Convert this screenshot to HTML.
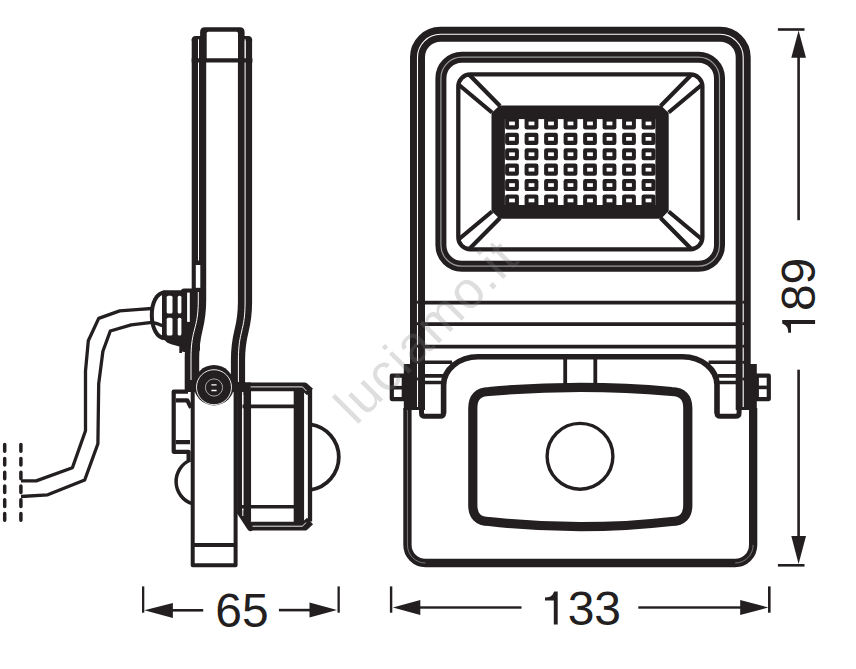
<!DOCTYPE html>
<html><head><meta charset="utf-8"><title>Floodlight dimensions</title>
<style>
html,body{margin:0;padding:0;background:#fff;}
body{width:856px;height:669px;overflow:hidden;font-family:"Liberation Sans",sans-serif;}
svg{display:block;}
</style></head>
<body>
<svg width="856" height="669" viewBox="0 0 856 669">
<rect width="856" height="669" fill="#fff"/>
<g fill="none" stroke="#231f20" stroke-linejoin="round">

<!-- ===== FRONT VIEW ===== -->
<!-- outer housing band -->
<path d="M417.5 410 V57.3 A23 23 0 0 1 440.5 34.3 H720.2 A23 23 0 0 1 743.2 57.3 V410" stroke-width="15"/>
<path d="M417.5 407 V57.3 A23 23 0 0 1 440.5 34.3 H720.2 A23 23 0 0 1 743.2 57.3 V407" stroke="#fff" stroke-width="1.1"/>
<!-- bezel -->
<rect x="440.9" y="57.2" width="278.6" height="209" rx="21" stroke-width="11"/>
<rect x="440.9" y="57.2" width="278.6" height="209" rx="21" stroke="#9a9a9a" stroke-width="1.2"/>
<!-- reflector -->
<rect x="458.3" y="74.4" width="244.1" height="174.9" rx="12" stroke-width="4.3"/>
<!-- diagonals -->
<g stroke-width="4.2" stroke-linecap="butt">
<path d="M469 74.5 L500 106 M458.5 84.5 L492 112.5"/>
<path d="M691.6 74.5 L660.6 106 M702.1 84.5 L668.6 112.5"/>
<path d="M469 249.3 L500 218 M458.5 239.5 L492 211.5"/>
<path d="M691.6 249.3 L660.6 218 M702.1 239.5 L668.6 211.5"/>
</g>
</g>

<g fill="#231f20"><rect x="416.6" y="300.8" width="1.8" height="2.8"/><rect x="742.3" y="300.8" width="1.8" height="2.8"/><rect x="416.6" y="322.3" width="1.8" height="2.8"/><rect x="742.3" y="322.3" width="1.8" height="2.8"/><rect x="416.6" y="344.8" width="1.8" height="2.8"/><rect x="742.3" y="344.8" width="1.8" height="2.8"/><rect x="416.6" y="360.9" width="1.8" height="2.8"/><rect x="742.3" y="360.9" width="1.8" height="2.8"/><rect x="416.6" y="377.6" width="1.8" height="2.8"/><rect x="742.3" y="377.6" width="1.8" height="2.8"/></g>
<!-- LED array -->
<path d="M499.6 105.4 H661 L668.7 113 V211 L661 218.7 H499.6 L491.5 211 V113 Z" fill="#231f20"/>
<rect x="504.9" y="119.1" width="150.5" height="85.9" fill="#fff"/>
<g fill="#231f20"><rect x="505.1" y="117.4" width="13.8" height="12.1" rx="2.2"/><rect x="524.6" y="117.4" width="13.8" height="12.1" rx="2.2"/><rect x="544.1" y="117.4" width="13.8" height="12.1" rx="2.2"/><rect x="563.6" y="117.4" width="13.8" height="12.1" rx="2.2"/><rect x="583.1" y="117.4" width="13.8" height="12.1" rx="2.2"/><rect x="602.6" y="117.4" width="13.8" height="12.1" rx="2.2"/><rect x="622.1" y="117.4" width="13.8" height="12.1" rx="2.2"/><rect x="641.6" y="117.4" width="13.8" height="12.1" rx="2.2"/><rect x="505.1" y="132.8" width="13.8" height="12.1" rx="2.2"/><rect x="524.6" y="132.8" width="13.8" height="12.1" rx="2.2"/><rect x="544.1" y="132.8" width="13.8" height="12.1" rx="2.2"/><rect x="563.6" y="132.8" width="13.8" height="12.1" rx="2.2"/><rect x="583.1" y="132.8" width="13.8" height="12.1" rx="2.2"/><rect x="602.6" y="132.8" width="13.8" height="12.1" rx="2.2"/><rect x="622.1" y="132.8" width="13.8" height="12.1" rx="2.2"/><rect x="641.6" y="132.8" width="13.8" height="12.1" rx="2.2"/><rect x="505.1" y="148.2" width="13.8" height="12.1" rx="2.2"/><rect x="524.6" y="148.2" width="13.8" height="12.1" rx="2.2"/><rect x="544.1" y="148.2" width="13.8" height="12.1" rx="2.2"/><rect x="563.6" y="148.2" width="13.8" height="12.1" rx="2.2"/><rect x="583.1" y="148.2" width="13.8" height="12.1" rx="2.2"/><rect x="602.6" y="148.2" width="13.8" height="12.1" rx="2.2"/><rect x="622.1" y="148.2" width="13.8" height="12.1" rx="2.2"/><rect x="641.6" y="148.2" width="13.8" height="12.1" rx="2.2"/><rect x="505.1" y="163.6" width="13.8" height="12.1" rx="2.2"/><rect x="524.6" y="163.6" width="13.8" height="12.1" rx="2.2"/><rect x="544.1" y="163.6" width="13.8" height="12.1" rx="2.2"/><rect x="563.6" y="163.6" width="13.8" height="12.1" rx="2.2"/><rect x="583.1" y="163.6" width="13.8" height="12.1" rx="2.2"/><rect x="602.6" y="163.6" width="13.8" height="12.1" rx="2.2"/><rect x="622.1" y="163.6" width="13.8" height="12.1" rx="2.2"/><rect x="641.6" y="163.6" width="13.8" height="12.1" rx="2.2"/><rect x="505.1" y="179.0" width="13.8" height="12.1" rx="2.2"/><rect x="524.6" y="179.0" width="13.8" height="12.1" rx="2.2"/><rect x="544.1" y="179.0" width="13.8" height="12.1" rx="2.2"/><rect x="563.6" y="179.0" width="13.8" height="12.1" rx="2.2"/><rect x="583.1" y="179.0" width="13.8" height="12.1" rx="2.2"/><rect x="602.6" y="179.0" width="13.8" height="12.1" rx="2.2"/><rect x="622.1" y="179.0" width="13.8" height="12.1" rx="2.2"/><rect x="641.6" y="179.0" width="13.8" height="12.1" rx="2.2"/><rect x="505.1" y="194.4" width="13.8" height="12.1" rx="2.2"/><rect x="524.6" y="194.4" width="13.8" height="12.1" rx="2.2"/><rect x="544.1" y="194.4" width="13.8" height="12.1" rx="2.2"/><rect x="563.6" y="194.4" width="13.8" height="12.1" rx="2.2"/><rect x="583.1" y="194.4" width="13.8" height="12.1" rx="2.2"/><rect x="602.6" y="194.4" width="13.8" height="12.1" rx="2.2"/><rect x="622.1" y="194.4" width="13.8" height="12.1" rx="2.2"/><rect x="641.6" y="194.4" width="13.8" height="12.1" rx="2.2"/></g>
<g fill="#fff"><rect x="509.1" y="121.6" width="5.8" height="3.7"/><rect x="528.6" y="121.6" width="5.8" height="3.7"/><rect x="548.1" y="121.6" width="5.8" height="3.7"/><rect x="567.6" y="121.6" width="5.8" height="3.7"/><rect x="587.1" y="121.6" width="5.8" height="3.7"/><rect x="606.6" y="121.6" width="5.8" height="3.7"/><rect x="626.1" y="121.6" width="5.8" height="3.7"/><rect x="645.6" y="121.6" width="5.8" height="3.7"/><rect x="509.1" y="137.0" width="5.8" height="3.7"/><rect x="528.6" y="137.0" width="5.8" height="3.7"/><rect x="548.1" y="137.0" width="5.8" height="3.7"/><rect x="567.6" y="137.0" width="5.8" height="3.7"/><rect x="587.1" y="137.0" width="5.8" height="3.7"/><rect x="606.6" y="137.0" width="5.8" height="3.7"/><rect x="626.1" y="137.0" width="5.8" height="3.7"/><rect x="645.6" y="137.0" width="5.8" height="3.7"/><rect x="509.1" y="152.4" width="5.8" height="3.7"/><rect x="528.6" y="152.4" width="5.8" height="3.7"/><rect x="548.1" y="152.4" width="5.8" height="3.7"/><rect x="567.6" y="152.4" width="5.8" height="3.7"/><rect x="587.1" y="152.4" width="5.8" height="3.7"/><rect x="606.6" y="152.4" width="5.8" height="3.7"/><rect x="626.1" y="152.4" width="5.8" height="3.7"/><rect x="645.6" y="152.4" width="5.8" height="3.7"/><rect x="509.1" y="167.8" width="5.8" height="3.7"/><rect x="528.6" y="167.8" width="5.8" height="3.7"/><rect x="548.1" y="167.8" width="5.8" height="3.7"/><rect x="567.6" y="167.8" width="5.8" height="3.7"/><rect x="587.1" y="167.8" width="5.8" height="3.7"/><rect x="606.6" y="167.8" width="5.8" height="3.7"/><rect x="626.1" y="167.8" width="5.8" height="3.7"/><rect x="645.6" y="167.8" width="5.8" height="3.7"/><rect x="509.1" y="183.2" width="5.8" height="3.7"/><rect x="528.6" y="183.2" width="5.8" height="3.7"/><rect x="548.1" y="183.2" width="5.8" height="3.7"/><rect x="567.6" y="183.2" width="5.8" height="3.7"/><rect x="587.1" y="183.2" width="5.8" height="3.7"/><rect x="606.6" y="183.2" width="5.8" height="3.7"/><rect x="626.1" y="183.2" width="5.8" height="3.7"/><rect x="645.6" y="183.2" width="5.8" height="3.7"/><rect x="509.1" y="198.6" width="5.8" height="3.7"/><rect x="528.6" y="198.6" width="5.8" height="3.7"/><rect x="548.1" y="198.6" width="5.8" height="3.7"/><rect x="567.6" y="198.6" width="5.8" height="3.7"/><rect x="587.1" y="198.6" width="5.8" height="3.7"/><rect x="606.6" y="198.6" width="5.8" height="3.7"/><rect x="626.1" y="198.6" width="5.8" height="3.7"/><rect x="645.6" y="198.6" width="5.8" height="3.7"/></g>

<g fill="none" stroke="#231f20" stroke-linejoin="round">
<!-- fins -->
<path d="M424 302.6 H737 M424 324.1 H737 M424 346.6 H737" stroke-width="3.8"/>
<!-- bracket horizontal lines -->
<path d="M424 362.3 H452 M708.6 362.3 H737" stroke-width="3.6"/>
<path d="M424 375.9 H443 M424 382.5 H443 M717.6 375.9 H737 M717.6 382.5 H737" stroke-width="3.6"/>
<!-- hump -->
<path d="M443.6 413.5 V385 A34.4 28.3 0 0 1 478 356.7 H682.6 A34.4 28.3 0 0 1 717 385 V413.5" stroke-width="5.6"/>
<!-- tabs -->
<path d="M421.5 375.9 V413 Q421.5 416.3 424.8 416.3 H440.3 Q443.6 416.3 443.6 413" stroke-width="5"/>
<path d="M739.1 375.9 V413 Q739.1 416.3 735.8 416.3 H720.3 Q717 416.3 717 413" stroke-width="5"/>
<!-- lower housing -->
<path d="M407.45 408 V545 A18 18 0 0 0 425.45 563 H735.15 A18 18 0 0 0 753.15 545 V408" stroke-width="8.3"/>
<path d="M407.45 410 V545 A18 18 0 0 0 425.45 563 M735.15 563 A18 18 0 0 0 753.15 545" stroke="#8a8a8a" stroke-width="0.8"/>
<!-- sensor window -->
<path d="M472.8 408 Q472.8 392 489 391.5 Q580.3 383.1 671.6 391.5 Q687.8 392 687.8 408 V505 Q687.8 521.5 671.6 521.5 Q580.3 531.9 489 521.5 Q472.8 521.5 472.8 505 Z" stroke-width="9.2"/>
<!-- neck -->
<path d="M565.2 358 V384 M595.3 358 V384" stroke-width="3.8"/>
<!-- PIR lens -->
<circle cx="580" cy="456.3" r="32.9" stroke-width="3.4"/>
<!-- bolts -->
<rect x="391.8" y="375.7" width="12" height="23.4" stroke-width="4.2"/>
<path d="M391 387.7 H404" stroke-width="3.6"/>
<rect x="756.8" y="375.7" width="12" height="23.4" stroke-width="4.2"/>
<path d="M756.6 387.4 H770" stroke-width="3.6"/>
</g>
<!-- washers -->
<rect x="403.8" y="364" width="12.8" height="46" fill="#231f20"/>
<rect x="744" y="364" width="12.8" height="46" fill="#231f20"/>

<!-- ===== DIMENSIONS ===== -->
<g fill="#231f20">
<!-- 133 -->
<rect x="389.9" y="586.4" width="2.4" height="26.3"/>
<rect x="768" y="586.4" width="2.6" height="26.3"/>
<path d="M392.9 607.5 L420.3 600 L420.3 615 Z"/>
<path d="M768.3 607.5 L740.2 600 L740.2 615 Z"/>
<rect x="418" y="606.3" width="103.5" height="2.4"/>
<rect x="638.3" y="606.3" width="104" height="2.4"/>
<!-- 65 -->
<rect x="142" y="586.4" width="2.3" height="26.3"/>
<rect x="337.5" y="586.4" width="2.3" height="26.3"/>
<path d="M144.3 610.3 L172.9 602.9 L172.9 617.9 Z"/>
<path d="M337 610.1 L309.5 602.6 L309.5 617.6 Z"/>
<rect x="171" y="609" width="32.2" height="2.6"/>
<rect x="278.9" y="608.8" width="32" height="2.6"/>
<!-- 189 -->
<rect x="777.9" y="28.2" width="26.6" height="2.6"/>
<rect x="777.9" y="564" width="26.6" height="2.6"/>
<path d="M798.6 30.5 L791.3 57.8 L806 57.8 Z"/>
<path d="M798.6 564 L791.3 536.1 L806 536.1 Z"/>
<rect x="797.3" y="55" width="2.6" height="165.2"/>
<rect x="797.3" y="369.7" width="2.6" height="168"/>
</g>
<g font-family="Liberation Sans, sans-serif" fill="#231f20" font-size="48">
<path transform="translate(540.97 624.5)" d="M16.73 0 V-32.9 H13.23 Q12.03 -29.1 9.03 -27.7 Q7.03 -26.9 4.03 -26.9 V-24.1 H12.83 V0 Z"/>
<text x="567.66" y="624.5">33</text>
<text x="242.05" y="626.6" text-anchor="middle">65</text>
<path transform="translate(815.1 336.8) rotate(-90)" d="M16.73 0 V-32.9 H13.23 Q12.03 -29.1 9.03 -27.7 Q7.03 -26.9 4.03 -26.9 V-24.1 H12.83 V0 Z"/>
<text transform="translate(815.1 296.8) rotate(-90)" x="-14.3">89</text>
</g>

<!-- ===== SIDE VIEW ===== -->
<g id="side" fill="none" stroke="#231f20" stroke-linejoin="round">
<!-- body bands -->
<path d="M198.95 39 V300 C198.95 330 191.95 328 191.95 358 V392" stroke-width="14.5"/>
<path d="M245 39 V302 C245 332 238 330 238 360 V392" stroke-width="14.2"/>
<path d="M198.5 40 V260.5" stroke="#fff" stroke-width="1"/>
<rect x="195.8" y="265" width="4.5" height="22.8" fill="#fff" stroke="none"/>
<path d="M245.1 40 V302 C245.1 332 238.4 330 238.4 360 V392" stroke="#fff" stroke-width="1"/>
<!-- cap -->
<path d="M191.7 41 V39.8 Q191.7 35.9 195.6 35.9 H206.2 V41 Z M252.1 41 V39.8 Q252.1 35.9 248.2 35.9 H238.3 V41 Z" fill="#231f20" stroke="none"/>
<path d="M200.1 62 V32 Q200.1 27.3 204.8 27.3 H239.9 Q244.6 27.3 244.6 32 V62 Z" fill="#231f20" stroke="none"/>
<path d="M206.7 60 V33.2 Q206.7 31.7 208.2 31.7 H236.5 Q238 31.7 238 33.2 V60 Z" fill="#fff" stroke="none"/>
<path d="M198.5 39.3 V62 M245.1 39.3 V62" stroke="#fff" stroke-width="1"/>
<path d="M191.7 60.4 H252.4" stroke-width="4.2"/>
<!-- bracket -->
<path d="M192.7 388 V565.3 H235.6 V380" stroke-width="4"/>
<path d="M192.7 545.1 H235.6" stroke-width="4"/>
<!-- sensor box -->
<path d="M239.6 382 V514" stroke-width="5"/>
<path d="M247.2 521 V382.5" stroke-width="7.7"/>
<path d="M241 513 L250.5 527.5" stroke-width="7" stroke-linecap="round"/>
<path d="M243 386.9 H304.5 L310 392" stroke-width="8.8"/>
<path d="M310 390 V521.5" stroke-width="4.3"/>
<path d="M249 526.2 H304.5 L310 521" stroke-width="8.8"/>
<path d="M242.8 395 V505 M242.8 509 V516" stroke="#fff" stroke-width="1"/>
<path d="M250.6 386.9 H302.5 L306.5 391" stroke="#fff" stroke-width="0.9"/>
<path d="M252.5 526.2 H302.5 L306 522.5" stroke="#fff" stroke-width="0.9"/>
<path d="M242.5 406.4 H296" stroke-width="3.8"/>
<path d="M242 506.8 H296.2" stroke-width="3.5"/>
<path d="M298.9 391 V522" stroke-width="10.4"/>
<path d="M310.5 424.3 A33.1 33.1 0 0 1 310.5 489.8" stroke-width="3.8"/>
<!-- small rect + dome left -->
<path d="M188 391.6 H173.7 V451.8 H188.6 V460" stroke-width="4.2"/>
<path d="M175.8 400.3 H187.2 L191 407.8 M175.8 442.2 H190" stroke-width="4.2"/>
<path d="M190.5 460 A23.3 23.3 0 0 0 192.2 503.7" stroke-width="3.5"/>
<!-- cable -->
<path d="M152 308.5 L139.6 309.4 L119.7 310.9 L98.7 318.4 L88.3 340.8 L85.5 371.2 L85.5 430.7 L72.4 467.7 L36.2 480.9 L21 480.9" stroke-width="3.3"/>
<path d="M152 322.3 L131.2 324.9 L110.3 331 L102.9 351.3 L98.7 383.8 L97.9 443.8 L84.7 480 L47.7 494.8 L21 496.5" stroke-width="3.3"/>
<path d="M4.7 444.6 V521 M20.9 444.6 V521" stroke-width="3.5" stroke-linecap="round" stroke-dasharray="6.6 7.2"/>
<!-- gland dome -->
<path d="M165 292.6 C156.5 292.6 151.8 303 151.8 315 C151.8 327 156.5 338 165 338.3" stroke-width="4"/>
<path d="M152.2 322.3 Q157 323 162.5 325.8" stroke-width="3.2"/>
</g>
<!-- gland ribs -->
<g fill="#231f20">
<rect x="162" y="290.3" width="38" height="49" rx="2"/>
<rect x="181" y="288.4" width="19" height="63.5" rx="3"/>
<path d="M164 336 H182 V353 H179.3 V346.5 L172 344.5 Q166 343 164 339 Z"/>
</g>
<g fill="#fff">
<rect x="166.7" y="295.7" width="5.8" height="17.8" rx="1.6"/>
<rect x="166.7" y="317.7" width="5.8" height="17.8" rx="1.6"/>
<rect x="177.7" y="295.7" width="3.7" height="17.8" rx="1.6"/>
<rect x="177.7" y="317.7" width="3.7" height="17.8" rx="1.6"/>
<rect x="187.1" y="292.6" width="2.7" height="29.3"/>
</g>
<path d="M198.3 292 V300 C198.3 330 191 328 191 358 V380" fill="none" stroke="#fff" stroke-width="1"/>
<!-- pivot -->
<circle cx="214" cy="385.2" r="20.2" fill="#231f20"/>
<g fill="none" stroke="#fff">
<circle cx="214" cy="387.2" r="17.5" stroke-width="0.9"/>
<circle cx="214" cy="387.5" r="8.6" stroke-width="0.6"/>
<path d="M211.4 384.8 H216.6 M211.4 390.5 H216.6" stroke-width="1.3"/>
</g>

<!-- watermark -->
<text transform="translate(356 426.3) rotate(-45)" font-family="Liberation Sans, sans-serif" font-size="52" letter-spacing="1.4" fill="#808080" fill-opacity="0.26">luciamo.it</text>
</svg>
</body></html>
